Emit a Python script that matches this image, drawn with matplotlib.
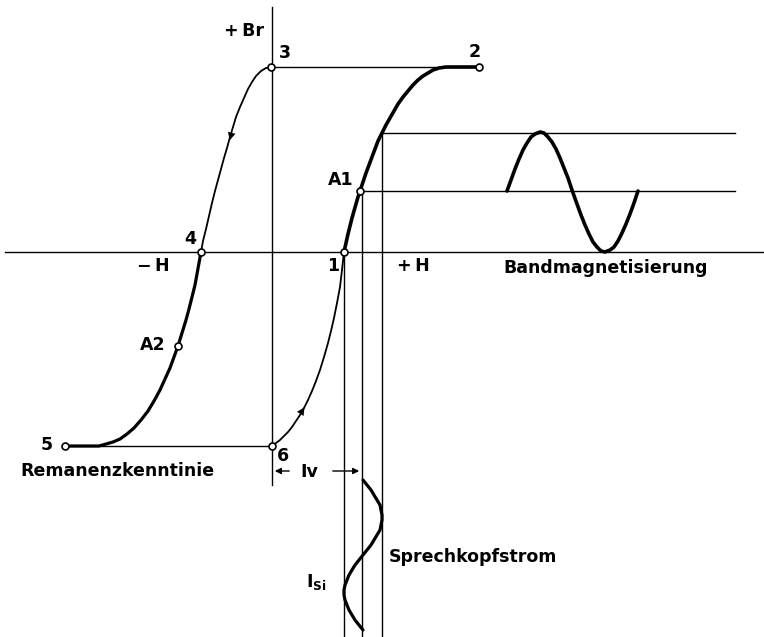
import matplotlib
matplotlib.use("Agg")
import matplotlib.pyplot as plt

# Points (pixel frame of the original sketch, y downwards)
# descending branch 3 -> 4 (thin) and 4 -> A2 -> 5 (thick)
desc_thin_x = [271, 266, 261, 256, 252, 248, 244, 240, 236, 233, 230, 227, 224, 221, 218, 215, 212, 209, 206, 203, 201]
desc_thin_y = [67, 68, 71, 76, 82, 89, 98, 107, 117, 127, 137, 148, 158, 169, 180, 191, 203, 216, 229, 241, 252]
desc_thick_x = [201, 199, 197, 195, 192, 189, 186, 182, 178, 174, 170, 165, 160, 154, 148, 141, 134, 127, 120, 113, 106, 99, 92, 65]
desc_thick_y = [252, 263, 274, 285, 297, 309, 320, 333, 346, 357, 368, 379, 390, 401, 411, 420, 428, 434, 439, 442, 444, 446, 446, 446]

# ascending branch 6 -> 1 (thin) and 1 -> A1 -> 2 (thick)
asc_thin_x = [272, 276, 280, 284, 288, 292, 296, 300, 304, 308, 312, 316, 320, 324, 328, 331, 334, 337, 340, 342, 344]
asc_thin_y = [446, 443, 440, 436, 432, 427, 421, 415, 408, 400, 391, 381, 370, 357, 343, 331, 318, 303, 287, 270, 252]
asc_thick_x = [344, 346, 348, 350, 352, 354, 356, 358, 360, 363, 366, 369, 372, 375, 378, 382, 386, 390, 394, 398, 403,
               408, 413, 418, 423, 428, 433, 439, 446, 455, 479]
asc_thick_y = [252, 243, 234, 226, 218, 211, 204, 197, 191, 182, 173, 165, 157, 149, 141, 133, 125, 118, 111, 104, 97,
               91, 85, 80, 76, 73, 70, 68, 67, 67, 67]

# tape magnetisation (Bandmagnetisierung)
band_x = [507, 511, 515, 519, 523, 527, 531, 535, 540, 544, 548, 552, 556, 560, 564, 568, 572,
          577, 581, 585, 589, 593, 597, 601, 605, 610, 614, 618, 622, 626, 630, 634, 638]
band_y = [191, 180, 169, 159, 150, 143, 137, 134, 132, 133, 137, 142, 149, 158, 168, 178, 190,
          204, 215, 225, 234, 242, 247, 251, 252, 250, 247, 241, 233, 224, 214, 203, 191]

# record head current (Sprechkopfstrom)
head_y = [480, 485, 490, 495, 500, 505, 510, 515, 520, 525, 530, 535, 540, 545, 550, 555,
          560, 565, 570, 575, 580, 585, 590, 595, 600, 605, 610, 615, 620, 625, 630]
head_x = [363, 367, 371, 374, 377, 380, 381, 382, 382, 381, 380, 377, 374, 371, 367, 363,
          359, 355, 352, 349, 347, 345, 344, 344, 345, 347, 349, 352, 355, 359, 363]

# marked points
pt_names = ["1", "2", "3", "4", "5", "6", "A1", "A2"]
pt_x = [344, 479, 271, 201, 65, 272, 360, 178]
pt_y = [252, 67, 67, 252, 446, 446, 191, 346]

thin = 1.0
thick = 2.3
k = "black"

fig = plt.figure(figsize=(7.64, 6.37), dpi=100)
ax = fig.add_axes([0, 0, 1, 1])
ax.set_xlim(0, 764)
ax.set_ylim(637, 0)
ax.axis("off")

# axes of the diagram
ax.plot([5, 764], [252, 252], color=k, lw=thin)
ax.plot([272, 272], [7, 485], color=k, lw=thin)

# construction lines
ax.plot([271, 479], [67, 67], color=k, lw=thin)
ax.plot([65, 272], [446, 446], color=k, lw=thin)
ax.plot([382, 735], [133, 133], color=k, lw=thin)
ax.plot([360, 735], [191, 191], color=k, lw=thin)
ax.plot([344, 344], [252, 637], color=k, lw=thin)
ax.plot([362, 362], [191, 637], color=k, lw=thin)
ax.plot([382, 382], [133, 637], color=k, lw=thin)

# curves
rj = dict(solid_joinstyle="round", solid_capstyle="round")
ax.plot(desc_thin_x, desc_thin_y, color=k, lw=1.3, **rj)
ax.plot(desc_thick_x, desc_thick_y, color=k, lw=thick, **rj)
ax.plot(asc_thin_x, asc_thin_y, color=k, lw=1.3, **rj)
ax.plot(asc_thick_x, asc_thick_y, color=k, lw=thick + 0.3, **rj)
ax.plot(band_x, band_y, color=k, lw=thick + 0.3, **rj)
ax.plot(head_x, head_y, color=k, lw=thick, **rj)

# direction arrows on the curves
ax.annotate("", xy=(229, 143), xytext=(234, 124),
            arrowprops=dict(arrowstyle="-|>", color=k, lw=0, mutation_scale=14))
ax.annotate("", xy=(306, 405), xytext=(297, 419),
            arrowprops=dict(arrowstyle="-|>", color=k, lw=0, mutation_scale=14))

# Iv dimension
ax.annotate("", xy=(272, 471), xytext=(292, 471),
            arrowprops=dict(arrowstyle="-|>", color=k, lw=thin, mutation_scale=9))
ax.annotate("", xy=(362, 471), xytext=(330, 471),
            arrowprops=dict(arrowstyle="-|>", color=k, lw=thin, mutation_scale=9))

ax.plot(pt_x, pt_y, "o", ms=5, mfc="white", mec=k, mew=1.2, zorder=5)

fs = 12.5
tk = dict(color=k, fontsize=fs, fontfamily="DejaVu Sans", fontweight="bold")
ax.text(264, 31, "+\u2009Br", ha="right", va="center", **tk)
ax.text(279, 53, "3", ha="left", va="center", **tk)
ax.text(475, 52, "2", ha="center", va="center", **tk)
ax.text(354, 180, "A1", ha="right", va="center", **tk)
ax.text(190, 239, "4", ha="center", va="center", **tk)
ax.text(170, 266, "−\u2009H", ha="right", va="center", **tk)
ax.text(333, 266, "1", ha="center", va="center", **tk)
ax.text(397, 266, "+\u2009H", ha="left", va="center", **tk)
ax.text(503, 268, "Bandmagnetisierung", ha="left", va="center", **tk)
ax.text(166, 345, "A2", ha="right", va="center", **tk)
ax.text(53, 445, "5", ha="right", va="center", **tk)
ax.text(277, 456, "6", ha="left", va="center", **tk)
ax.text(20, 471, "Remanenzkenntinie", ha="left", va="center", **tk)
ax.text(300, 472, "Iv", ha="left", va="center", **tk)
ax.text(389, 557, "Sprechkopfstrom", ha="left", va="center", **tk)
ax.text(306, 582, "I$_{\\mathbf{Si}}$", ha="left", va="center", **tk)

fig.savefig("out.png", dpi=100, facecolor="white")
